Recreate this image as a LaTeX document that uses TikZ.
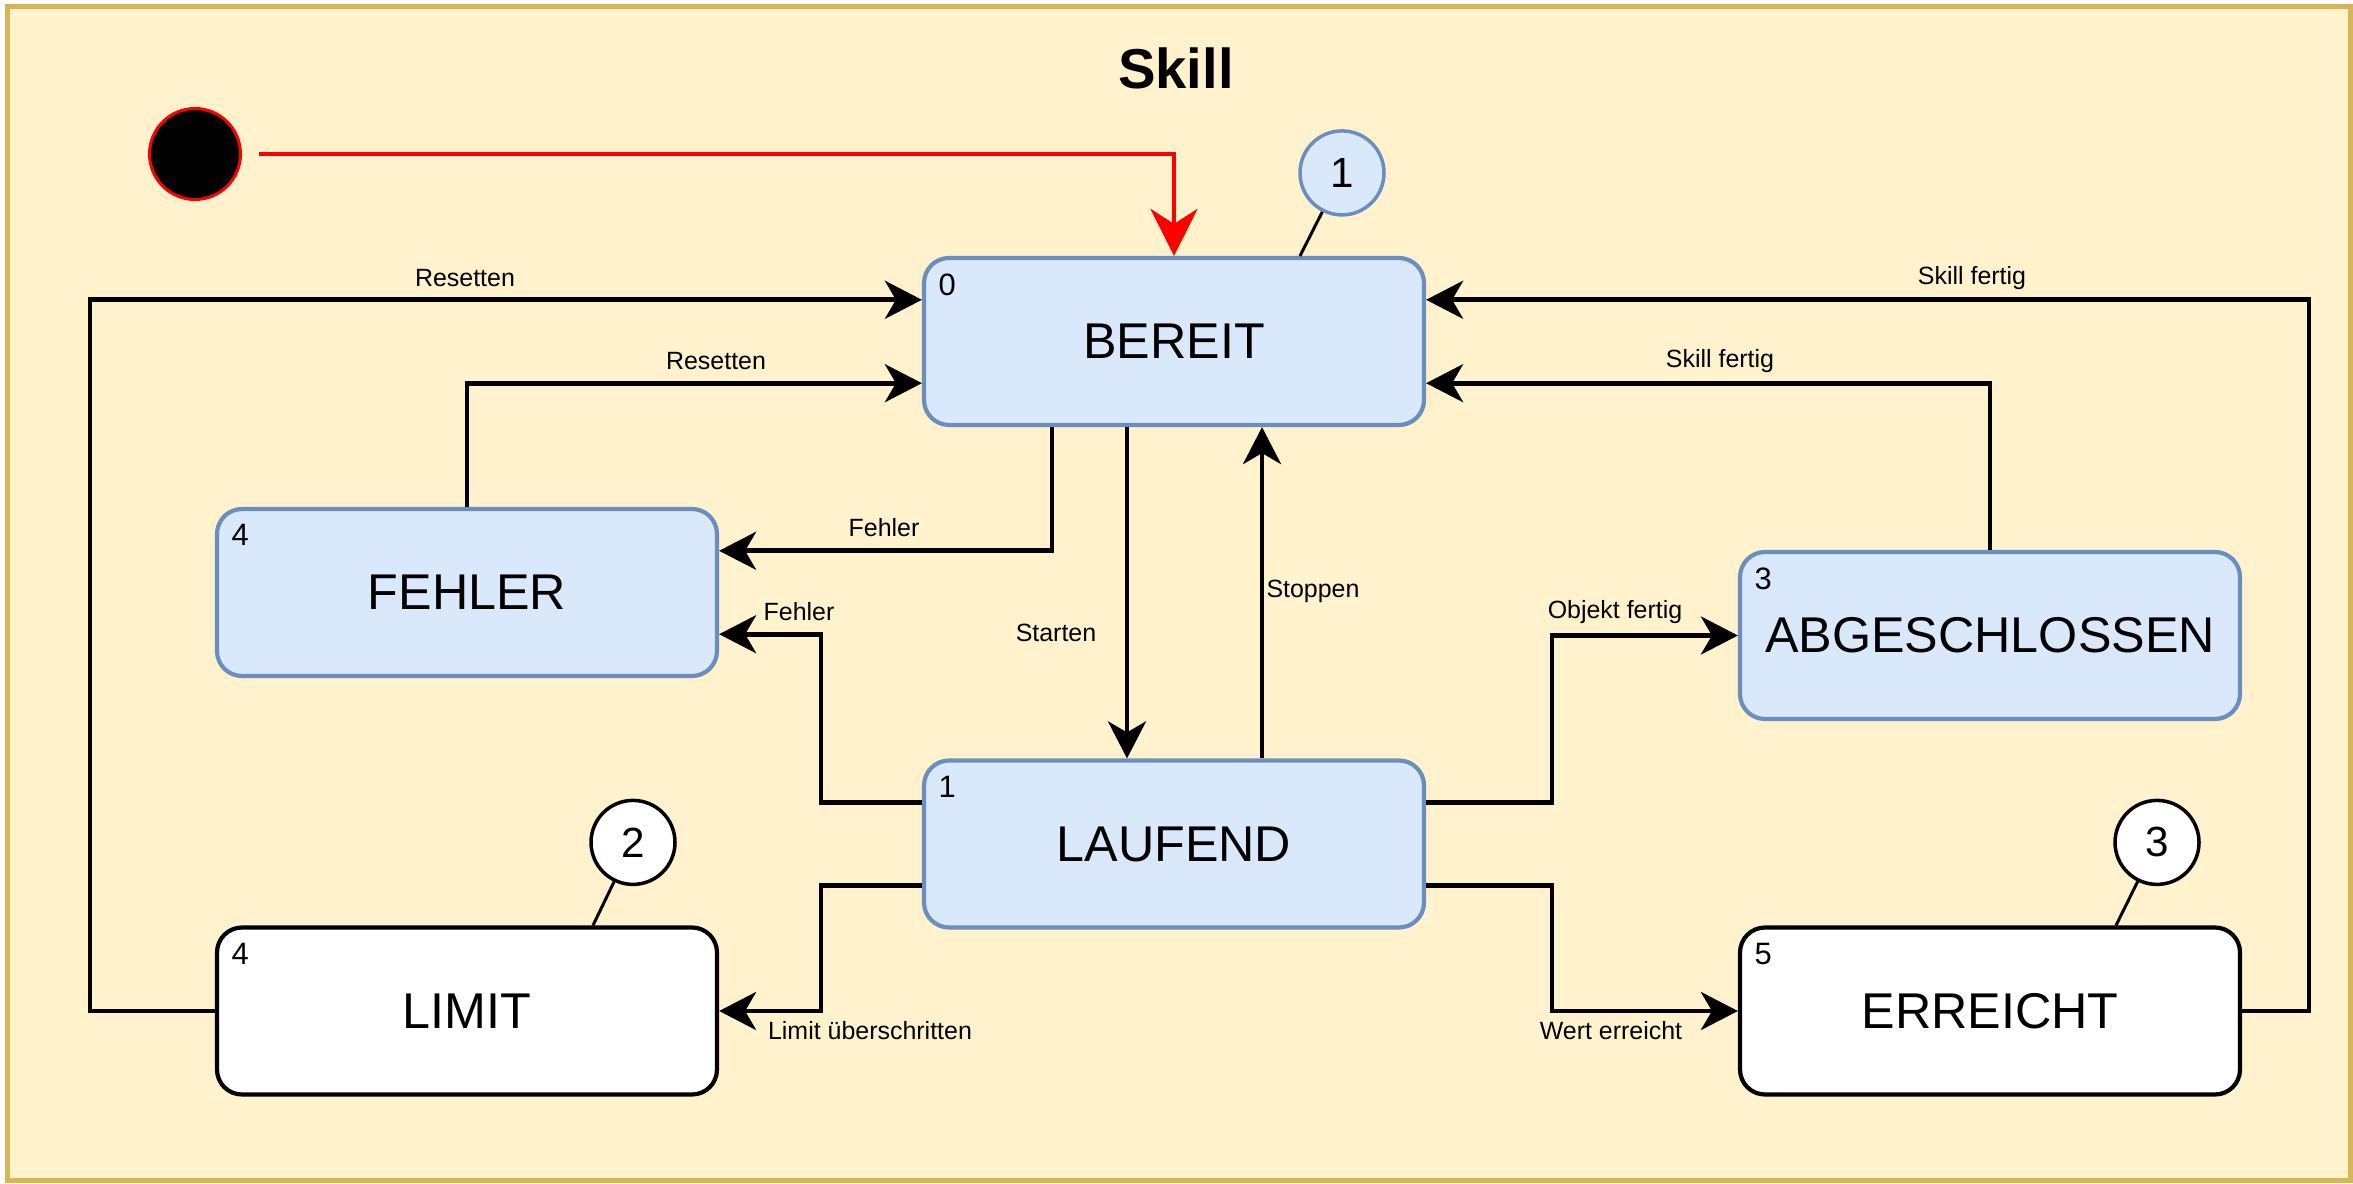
\documentclass[tikz,border=0pt]{standalone}
\usepackage{fontspec}
\setmainfont{Liberation Sans}
\usepackage{tikz}
\usepackage{xcolor}
\usetikzlibrary{arrows.meta,positioning}
\definecolor{skillfill}{HTML}{FFF2CC}
\definecolor{skillline}{HTML}{D6B656}
\definecolor{statefill}{HTML}{DAE8FC}
\definecolor{stateline}{HTML}{6C8EBF}

\begin{document}
\begin{tikzpicture}[
  statebox/.style={draw=stateline,fill=statefill,line width=0.42mm,rounded corners=2.5mm,
    minimum width=5.0cm,minimum height=1.67cm,inner sep=0pt,font=\fontsize{14.3}{16}\selectfont},
  endbox/.style={statebox,draw=black,fill=white},
  nr/.style={inner sep=0pt,font=\fontsize{8.8}{10}\selectfont},
  badge/.style={circle,draw=black,fill=white,line width=0.35mm,minimum size=0.84cm,
    inner sep=0pt,font=\fontsize{12}{14}\selectfont},
  flow/.style={line width=0.47mm,-{Stealth[length=3.7mm,width=3.8mm,inset=1.1mm]}},
  lbl/.style={inner sep=0pt,font=\fontsize{7.1}{8.5}\selectfont}
]
\useasboundingbox (0,0) rectangle (23.53,11.83);
% frame
\draw[skillline,fill=skillfill,line width=0.5mm] (0.07,0.03) rectangle (23.50,11.76);
\node[font=\fontsize{16}{19}\selectfont\bfseries] (title) at (11.76,11.15) {Skill};

% states
\node[statebox] (bereit) at (11.74,8.415) {BEREIT};
\node[statebox] (fehler) at (4.67,5.905) {FEHLER};
\node[statebox] (laufend) at (11.74,3.39) {LAUFEND};
\node[statebox] (abgeschl) at (19.90,5.475) {ABGESCHLOSSEN};
\node[endbox] (limit) at (4.67,1.72) {LIMIT};
\node[endbox] (erreicht) at (19.90,1.72) {ERREICHT};
\node[nr,below right=1.7mm and 1.6mm of bereit.north west] (nrBereit) {0};
\node[nr,below right=1.7mm and 1.6mm of fehler.north west] (nrFehler) {4};
\node[nr,below right=1.7mm and 1.6mm of laufend.north west] (nrLaufend) {1};
\node[nr,below right=1.7mm and 1.6mm of abgeschl.north west] (nrAbgeschl) {3};
\node[nr,below right=1.7mm and 1.6mm of limit.north west] (nrLimit) {4};
\node[nr,below right=1.7mm and 1.6mm of erreicht.north west] (nrErreicht) {5};

% badges
\node[badge,draw=stateline,fill=statefill] (badge1) at ([shift={(1.68,0.83)}]bereit.north) {1};
\node[badge] (badge2) at ([shift={(1.66,0.83)}]limit.north) {2};
\node[badge] (badge3) at ([shift={(1.67,0.83)}]erreicht.north) {3};
\draw[line width=0.3mm] (badge1) -- ([xshift=1.26cm]bereit.north);
\draw[line width=0.3mm] (badge2) -- ([xshift=1.26cm]limit.north);
\draw[line width=0.3mm] (badge3) -- ([xshift=1.26cm]erreicht.north);

% start
\node[circle,fill=black,draw=red,line width=0.3mm,minimum size=0.91cm,inner sep=0pt] (init) at (1.95,10.29) {};
\draw[red,line width=0.45mm,shorten <=1.7mm,-{Stealth[length=4.7mm,width=4.7mm,inset=1.5mm]}]
  (init) -| (bereit.north);

% transitions
\draw[flow] (limit.west) -- ++(-1.25,0) |- ([yshift=4.17mm]bereit.west);
\draw[flow] (fehler.north) |- ([yshift=-4.17mm]bereit.west);
\draw[flow] ([xshift=-1.22cm]bereit.south) |- ([yshift=4.17mm]fehler.east);
\draw[flow] ([xshift=-0.47cm]bereit.south) -- ([xshift=-0.47cm]laufend.north);
\draw[flow] ([xshift=0.88cm]laufend.north) -- ([xshift=0.88cm]bereit.south);
\draw[flow] ([yshift=4.17mm]laufend.west) -- ++(-1.01,0) |- ([yshift=-4.17mm]fehler.east);
\draw[flow] ([yshift=-4.17mm]laufend.west) -- ++(-1.01,0) |- (limit.east);
\draw[flow] ([yshift=4.17mm]laufend.east) -- ++(1.26,0) |- (abgeschl.west);
\draw[flow] ([yshift=-4.17mm]laufend.east) -- ++(1.26,0) |- (erreicht.west);
\draw[flow] (abgeschl.north) |- ([yshift=-4.17mm]bereit.east);
\draw[flow] (erreicht.east) -- ++(0.67,0) |- ([yshift=4.17mm]bereit.east);

% labels
\node[lbl] (tReset1) at (4.65,9.05) {Resetten};
\node[lbl] (tReset2) at (7.16,8.22) {Resetten};
\node[lbl] (tFehler1) at (8.84,6.55) {Fehler};
\node[lbl] (tStarten) at (10.56,5.50) {Starten};
\node[lbl] (tStoppen) at (13.13,5.92) {Stoppen};
\node[lbl] (tFehler2) at (7.99,5.71) {Fehler};
\node[lbl] (tLimit) at (8.70,1.52) {Limit überschritten};
\node[lbl] (tObjekt) at (16.15,5.71) {Objekt fertig};
\node[lbl] (tWert) at (16.11,1.52) {Wert erreicht};
\node[lbl] (tSkill1) at (17.20,8.22) {Skill fertig};
\node[lbl] (tSkill2) at (19.72,9.05) {Skill fertig};
\end{tikzpicture}
\end{document}
